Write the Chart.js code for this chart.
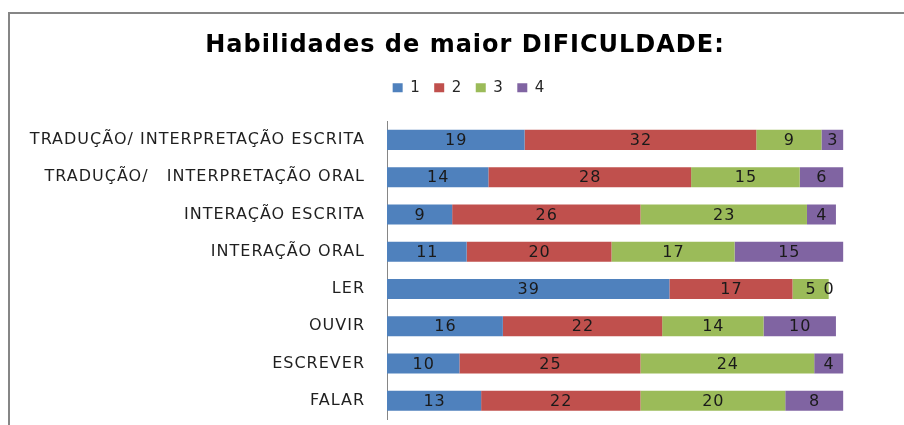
<!DOCTYPE html>
<html>
<head>
<meta charset="utf-8">
<script src="https://cdn.jsdelivr.net/npm/chart.js@4/dist/chart.umd.min.js"></script>
<style>
  html, body { margin: 0; padding: 0; background: #fff; overflow: hidden; }
  #wrap { width: 904px; height: 425px; overflow: hidden; }
</style>
</head>
<body>
<div id="wrap"><canvas id="chart" width="904" height="451"></canvas></div>
<script>
// ── data ──────────────────────────────────────────────────────────────────
const categories = [
  'TRADUÇÃO/ INTERPRETAÇÃO ESCRITA',
  'TRADUÇÃO/   INTERPRETAÇÃO ORAL',
  'INTERAÇÃO ESCRITA',
  'INTERAÇÃO ORAL',
  'LER',
  'OUVIR',
  'ESCREVER',
  'FALAR'
];
const seriesNames = ['1', '2', '3', '4'];
const s1 = [19, 14, 9, 11, 39, 16, 10, 13];
const s2 = [32, 28, 26, 20, 17, 22, 25, 22];
const s3 = [9, 15, 23, 17, 5, 14, 24, 20];
const s4 = [3, 6, 4, 15, 0, 10, 4, 8];

const colors = ['#4F81BD', '#C0504D', '#9BBB59', '#8064A2'];

Chart.defaults.font.family = "'DejaVu Sans', sans-serif";

// the original text is wider than any installed face, so space it a little
const spacing = {
  id: 'spacing',
  beforeUpdate(chart) { chart.ctx.letterSpacing = '1px'; },
  beforeDraw(chart) { chart.ctx.letterSpacing = '1px'; }
};

// outer frame of the chart (only left/top are visible in the crop)
const framePlugin = {
  id: 'frame',
  beforeDraw(chart) {
    const { ctx } = chart;
    ctx.save();
    ctx.fillStyle = '#fff';
    ctx.fillRect(0, 0, chart.width, chart.height);
    ctx.strokeStyle = '#868686';
    ctx.lineWidth = 2;
    ctx.beginPath();
    ctx.moveTo(9, chart.height + 5);
    ctx.lineTo(9, 13);
    ctx.lineTo(chart.width + 5, 13);
    ctx.stroke();
    ctx.restore();
  }
};

// value labels centred in every segment
const valueLabels = {
  id: 'valueLabels',
  afterDatasetsDraw(chart) {
    const { ctx } = chart;
    ctx.save();
    ctx.font = "16px 'DejaVu Sans'";
    ctx.fillStyle = '#1a1a1a';
    ctx.textAlign = 'center';
    ctx.textBaseline = 'middle';
    chart.data.datasets.forEach((ds, i) => {
      chart.getDatasetMeta(i).data.forEach((bar, j) => {
        ctx.fillText(String(ds.data[j]), (bar.x + bar.base) / 2 + 0.5, bar.y + 1);
      });
    });
    ctx.restore();
  }
};

// extra gap under the legend, and the legend row sits a bit right of the title
const legendTweak = {
  id: 'legendTweak',
  beforeInit(chart) {
    const fit = chart.legend.fit;
    chart.legend.fit = function () {
      fit.bind(chart.legend)();
      this.height += 16;
    };
  },
  afterLayout(chart) {
    chart.legend.left += 8;
  }
};

new Chart(document.getElementById('chart'), {
  type: 'bar',
  data: {
    labels: categories,
    datasets: [s1, s2, s3, s4].map((d, i) => ({
      label: seriesNames[i],
      data: d,
      backgroundColor: colors[i],
      borderWidth: 0,
      categoryPercentage: 1,
      barPercentage: 0.54
    }))
  },
  options: {
    indexAxis: 'y',
    responsive: false,
    animation: false,
    layout: { padding: { left: 26, right: 0, top: 0, bottom: 0 } },
    plugins: {
      title: {
        display: true,
        text: 'Habilidades de maior DIFICULDADE:',
        color: '#000',
        font: { size: 24, weight: 'bold' },
        padding: { top: 31, bottom: 7 }
      },
      legend: {
        position: 'top',
        labels: {
          color: '#262626',
          font: { size: 15 },
          boxWidth: 10,
          boxHeight: 9,
          padding: 13.5
        }
      },
      tooltip: { enabled: false }
    },
    scales: {
      x: { stacked: true, min: 0, max: 71.4, display: false },
      y: {
        stacked: true,
        grid: { display: false, drawTicks: false },
        border: { display: true, color: '#868686', width: 1 },
        ticks: { color: '#1f1f1f', font: { size: 16 }, padding: 22 },
        afterFit(s) { s.width = 361; }
      }
    }
  },
  plugins: [spacing, framePlugin, valueLabels, legendTweak]
});
</script>
</body>
</html>
